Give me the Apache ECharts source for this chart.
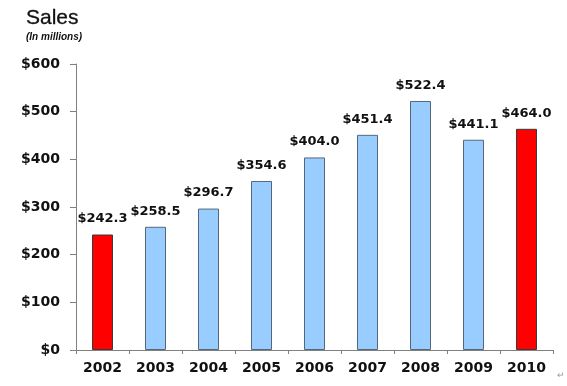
<!DOCTYPE html>
<html><head><meta charset="utf-8">
<script src="https://cdn.jsdelivr.net/npm/echarts@6/dist/echarts.min.js"></script>
<style>html,body{margin:0;padding:0;background:#fff}#c{width:567px;height:386px}</style>
</head><body><div id="c"></div>
<script>
const categories = ['2002','2003','2004','2005','2006','2007','2008','2009','2010'];
const sales = [242.3, 258.5, 296.7, 354.6, 404.0, 451.4, 522.4, 441.1, 464.0];
const highlighted = ['2002','2010'];
const yTicks = [0, 100, 200, 300, 400, 500, 600];

const chart = echarts.init(document.getElementById('c'));
const font = 'Liberation Sans, Arial, sans-serif';
const wide = 'DejaVu Sans, Verdana, sans-serif';
chart.setOption({
  animation: false,
  backgroundColor: '#fff',
  title: [
    {text: 'Sales', left: 21, top: 3, textStyle: {fontFamily: font, fontSize: 21, fontWeight: 'normal', color: '#111', textBorderColor: '#111', textBorderWidth: 0.3}},
    {text: '(In millions)', left: 21, top: 27, textStyle: {fontFamily: font, fontSize: 10, fontWeight: 'bold', fontStyle: 'italic', color: '#111'}}
  ],
  graphic: [{type: 'text', left: 557, top: 371, style: {text: '\u21b5', fontSize: 9, fill: '#999'}}],
  grid: {left: 76, right: 14, top: 64, bottom: 36, containLabel: false},
  xAxis: {
    type: 'category', data: categories,
    axisLine: {lineStyle: {color: '#808080', width: 1}},
    axisTick: {show: true, length: 4, lineStyle: {color: '#808080'}},
    axisLabel: {fontFamily: wide, fontSize: 14, fontWeight: 'bold', color: '#111', margin: 11}
  },
  yAxis: {
    type: 'value', min: 0, max: 600, interval: 100,
    axisLine: {show: true, lineStyle: {color: '#808080', width: 1}},
    axisTick: {show: true, length: 6, lineStyle: {color: '#808080'}},
    splitLine: {show: false},
    axisLabel: {fontFamily: wide, fontSize: 14, fontWeight: 'bold', color: '#111', margin: 16,
      formatter: v => yTicks.includes(v) ? '$' + v : ''}
  },
  series: [{
    type: 'bar', barWidth: 21,
    data: sales.map((v, i) => ({
      value: v,
      itemStyle: highlighted.includes(categories[i])
        ? {color: '#FF0000', borderColor: '#3a3a3a', borderWidth: 1}
        : {color: '#99CCFF', borderColor: '#55687a', borderWidth: 1}
    })),
    label: {show: true, position: 'top', distance: 9, fontFamily: wide, fontSize: 13, fontWeight: 'bold', color: '#111',
      formatter: p => '$' + p.value.toFixed(1)}
  }]
});
</script></body></html>
